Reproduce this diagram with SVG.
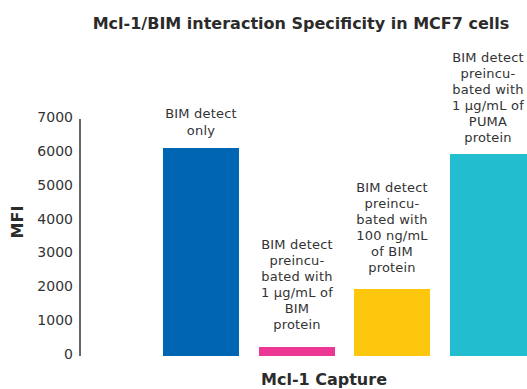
<svg xmlns="http://www.w3.org/2000/svg" width="527" height="389" viewBox="0 0 527 389">
  <style>
    text { font-family: "DejaVu Sans", Verdana, sans-serif; fill: #333333; }
    .title { font-size: 16px; font-weight: bold; fill: #2b2b2b; }
    .axis-title { font-size: 16px; font-weight: bold; fill: #2b2b2b; }
    .tick { font-size: 14px; text-anchor: end; }
    .label { font-size: 13px; letter-spacing: 0.2px; text-anchor: middle; }
    .axis { stroke: #000000; stroke-width: 1.2; fill: none; }
  </style>

  <rect width="527" height="389" fill="#ffffff"/>

  <!-- chart title -->
  <text class="title" x="301" y="29" text-anchor="middle">Mcl-1/BIM interaction Specificity in MCF7 cells</text>

  <!-- y axis -->
  <g id="y-axis">
    <line class="axis" x1="80" y1="119" x2="80" y2="356"/>
    <text class="tick" x="73" y="122">7000</text>
    <text class="tick" x="73" y="156">6000</text>
    <text class="tick" x="73" y="190">5000</text>
    <text class="tick" x="73" y="224">4000</text>
    <text class="tick" x="73" y="257">3000</text>
    <text class="tick" x="73" y="291">2000</text>
    <text class="tick" x="73" y="325">1000</text>
    <text class="tick" x="73" y="359">0</text>
    <text class="axis-title" transform="translate(23,222) rotate(-90)" text-anchor="middle">MFI</text>
  </g>

  <!-- bars -->
  <g id="bar-only">
    <rect x="163" y="148" width="76" height="208" fill="#0066b3"/>
    <text class="label" x="201" y="117.5">BIM detect</text>
    <text class="label" x="201" y="134.5">only</text>
  </g>

  <g id="bar-bim-1ug">
    <rect x="259" y="347" width="76" height="9" fill="#ec3894"/>
    <text class="label" x="297" y="248.5">BIM detect</text>
    <text class="label" x="297" y="265">preincu-</text>
    <text class="label" x="297" y="281">bated with</text>
    <text class="label" x="297" y="297">1 µg/mL of</text>
    <text class="label" x="297" y="313">BIM</text>
    <text class="label" x="297" y="329">protein</text>
  </g>

  <g id="bar-bim-100ng">
    <rect x="354" y="289" width="76" height="67" fill="#fdc70d"/>
    <text class="label" x="392" y="191.5">BIM detect</text>
    <text class="label" x="392" y="207.5">preincu-</text>
    <text class="label" x="392" y="224">bated with</text>
    <text class="label" x="392" y="240">100 ng/mL</text>
    <text class="label" x="392" y="256">of BIM</text>
    <text class="label" x="392" y="272">protein</text>
  </g>

  <g id="bar-puma">
    <rect x="450" y="154" width="77" height="202" fill="#22bdcf"/>
    <text class="label" x="488" y="62">BIM detect</text>
    <text class="label" x="488" y="78">preincu-</text>
    <text class="label" x="488" y="94">bated with</text>
    <text class="label" x="488" y="110">1 µg/mL of</text>
    <text class="label" x="488" y="126">PUMA</text>
    <text class="label" x="488" y="142">protein</text>
  </g>

  <g id="connectors"></g>

  <!-- x axis title -->
  <text class="axis-title" x="324" y="385" text-anchor="middle">Mcl-1 Capture</text>
</svg>
